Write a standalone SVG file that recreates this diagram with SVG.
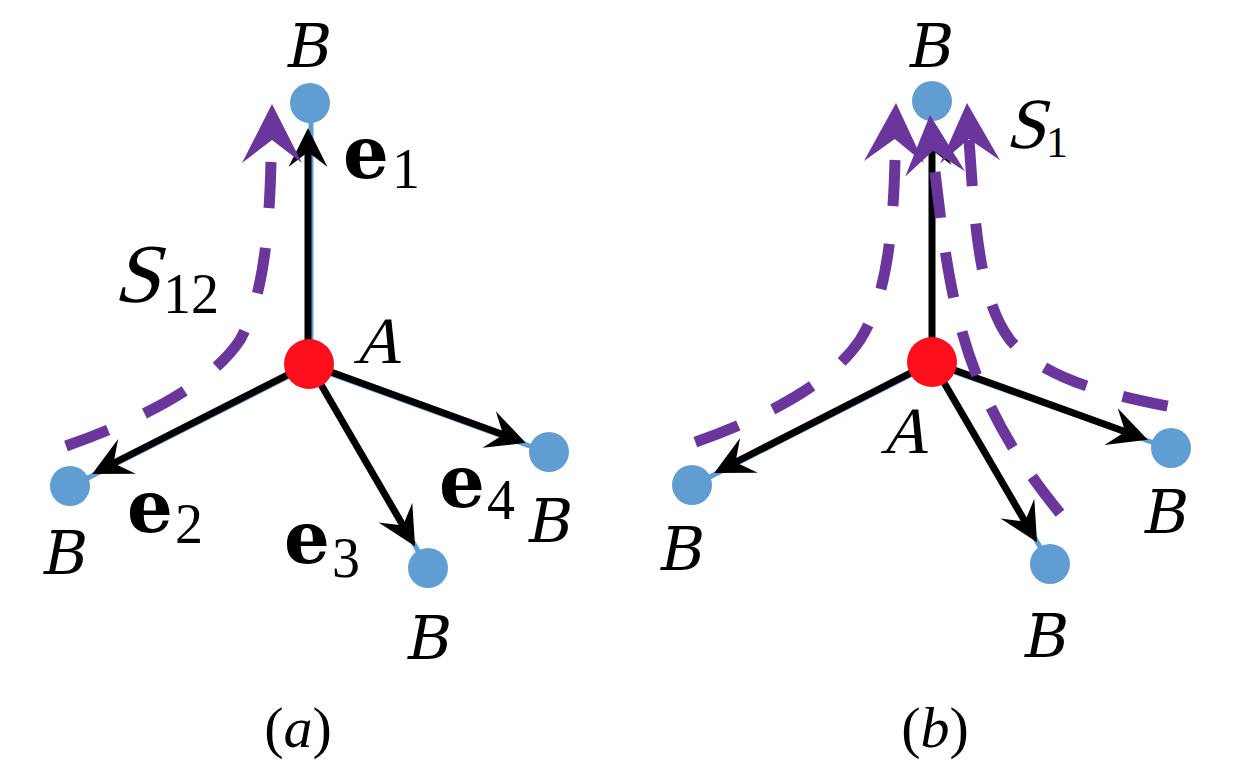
<svg xmlns="http://www.w3.org/2000/svg" xmlns:xlink="http://www.w3.org/1999/xlink" width="1240" height="776" viewBox="0 0 1240 776">
<style>
.bl{stroke:#5f9dd3;stroke-width:5;fill:none}
.ar{stroke:#000;stroke-width:7;fill:none;marker-end:url(#ah)}
.pu{stroke:#6b369c;stroke-width:11;fill:none;stroke-dasharray:46 40}
.ph{fill:#6b369c}
.bn{fill:#5f9dd3}
.an{fill:#fc0e1c}
.it{font-family:"DejaVu Serif",serif;font-style:italic;font-size:60px;fill:#000}
.sk{font-family:"Liberation Serif",serif;font-size:66px;fill:#000}
.ev{font-family:"DejaVu Serif",serif;font-weight:bold;font-size:72px;fill:#000}
.sb{font-family:"Liberation Serif",serif;font-size:56px;fill:#000}
.cap{font-family:"Liberation Serif",serif;font-size:58px;fill:#000}
</style>
<defs>
<marker id="ah" markerUnits="userSpaceOnUse" viewBox="-40 -20 41 40" refX="-20" refY="0" markerWidth="41" markerHeight="40" orient="auto">
<path d="M0,0 L-39,-19.5 L-24,0 L-39,19.5 Z" fill="#000"/>
</marker>
<path id="pah" d="M0,0 L-30,59 L0,36 L30,59 Z"/>
</defs>
<rect width="1240" height="776" fill="#fff"/>
<g id="connectors">
<g id="blue-links">
<line class="bl" x1="311" y1="364" x2="311" y2="103"/>
<line class="bl" x1="309" y1="366" x2="70" y2="487"/>
<line class="bl" x1="309" y1="364" x2="428" y2="568"/>
<line class="bl" x1="309" y1="366" x2="549" y2="453"/>
<line class="bl" x1="932" y1="364" x2="692" y2="486"/>
<line class="bl" x1="932" y1="362" x2="1050" y2="564"/>
<line class="bl" x1="932" y1="364" x2="1171" y2="449"/>
</g>
<g id="vectors">
<line class="ar" x1="308" y1="364" x2="308" y2="148"/>
<line class="ar" x1="309" y1="364" x2="110" y2="465"/>
<line class="ar" x1="309" y1="364" x2="405" y2="529"/>
<line class="ar" x1="309" y1="364" x2="507" y2="436"/>
<line class="ar" x1="932" y1="362" x2="932" y2="146"/>
<line class="ar" x1="932" y1="362" x2="732" y2="464"/>
<line class="ar" x1="932" y1="362" x2="1027" y2="525"/>
<line class="ar" x1="932" y1="362" x2="1129" y2="433"/>
</g>
</g>
<g id="node-a-A"><circle class="an" cx="309" cy="364" r="25"/><text class="sk" x="0" y="0" text-anchor="middle" transform="translate(377,363) skewX(-15)">A</text></g>
<g id="node-a-B1"><circle class="bn" cx="310" cy="103" r="20"/><text class="it" x="310" y="67" text-anchor="middle">B</text></g>
<g id="node-a-B2"><circle class="bn" cx="70" cy="486" r="20"/><text class="it" x="66" y="574" text-anchor="middle">B</text></g>
<g id="node-a-B3"><circle class="bn" cx="428" cy="568" r="20"/><text class="it" x="430" y="659" text-anchor="middle">B</text></g>
<g id="node-a-B4"><circle class="bn" cx="549" cy="452" r="20"/><text class="it" x="551" y="542" text-anchor="middle">B</text></g>
<g id="node-b-A"><circle class="an" cx="932" cy="362" r="25"/><text class="sk" x="0" y="0" text-anchor="middle" transform="translate(904,453) skewX(-15)">A</text></g>
<g id="node-b-B1"><circle class="bn" cx="932" cy="101" r="20"/><text class="it" x="932" y="67" text-anchor="middle">B</text></g>
<g id="node-b-B2"><circle class="bn" cx="692" cy="485" r="20"/><text class="it" x="683" y="570" text-anchor="middle">B</text></g>
<g id="node-b-B3"><circle class="bn" cx="1050" cy="564" r="20"/><text class="it" x="1047" y="657" text-anchor="middle">B</text></g>
<g id="node-b-B4"><circle class="bn" cx="1171" cy="448" r="20"/><text class="it" x="1167" y="533" text-anchor="middle">B</text></g>
<g id="paths">
<path class="pu" d="M271,162 C269,240 262,300 240,340 C210,385 140,420 66,446"/>
<use href="#pah" xlink:href="#pah" class="ph" transform="translate(272,104)"/>
<path class="pu" style="stroke-dasharray:46 38" d="M895,160 C893,240 885,300 860,340 C830,385 760,420 690,444"/>
<path class="pu" style="stroke-dasharray:46 35" d="M935,172 C945,260 955,330 985,395 C1010,450 1040,490 1074,530"/>
<path class="pu" style="stroke-dasharray:46 37.6" d="M969,140 C975,230 980,300 1010,340 C1045,380 1110,395 1177,408"/>
<use href="#pah" xlink:href="#pah" class="ph" transform="translate(896,103) rotate(2)"/>
<use href="#pah" xlink:href="#pah" class="ph" transform="translate(967,103) rotate(-3)"/>
<use href="#pah" xlink:href="#pah" class="ph" transform="translate(930,115) rotate(-5)"/>
</g>
<g id="labels">
<text class="ev" x="343" y="178">e</text><text class="sb" x="392" y="188">1</text>
<text class="ev" x="127" y="532">e</text><text class="sb" x="175" y="543">2</text>
<text class="ev" x="284" y="563">e</text><text class="sb" x="332" y="577">3</text>
<text class="ev" x="439" y="507">e</text><text class="sb" x="487" y="519">4</text>
<text class="sk" x="0" y="0" transform="translate(113,302) skewX(-15)" style="font-size:84px">S</text><text class="sb" x="163" y="313">12</text>
<text class="sk" x="0" y="0" transform="translate(1005,148) skewX(-15)" style="font-size:72px">S</text><text class="sb" x="1046" y="157" style="font-size:44px">1</text>
<text class="cap" x="298" y="747" text-anchor="middle">(<tspan font-style="italic">a</tspan>)</text>
<text class="cap" x="935" y="747" text-anchor="middle">(<tspan font-style="italic">b</tspan>)</text>
</g>
</svg>
